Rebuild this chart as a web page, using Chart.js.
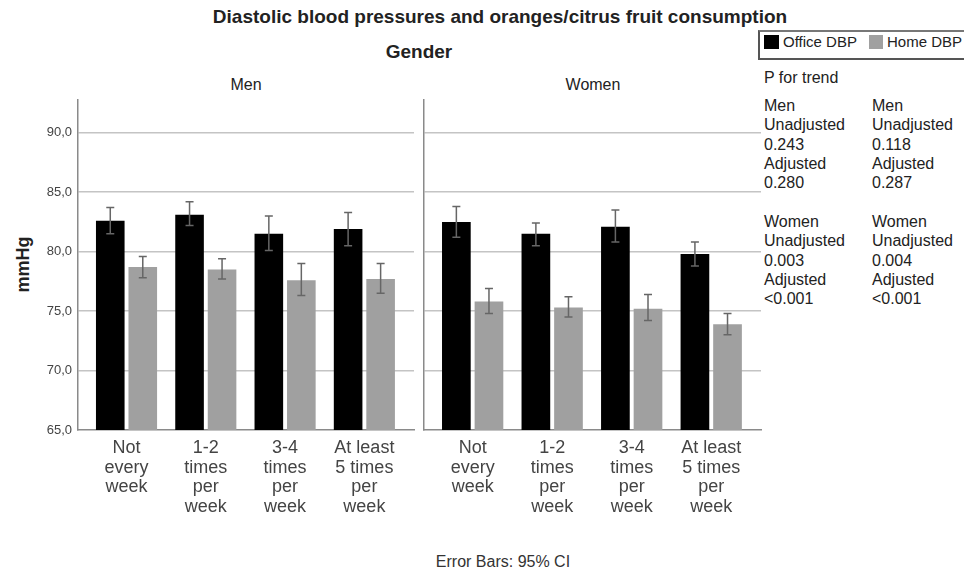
<!DOCTYPE html>
<html>
<head>
<meta charset="utf-8">
<script src="https://cdn.jsdelivr.net/npm/chart.js@4/dist/chart.umd.min.js"></script>
<style>
  body { margin: 0; background: #fff; font-family: "Liberation Sans", Arial, sans-serif; color: #222; }
  #wrap { position: relative; width: 964px; height: 571px; overflow: hidden; }
  .t { position: absolute; white-space: nowrap; }
  canvas { position: absolute; }
  .pt { position: absolute; font-size: 16px; line-height: 19.3px; color: #222; white-space: nowrap; }
</style>
</head>
<body>
<div id="wrap">
  <div class="t" style="left:200px;width:600px;top:6px;text-align:center;font-weight:bold;font-size:19px;">Diastolic blood pressures and oranges/citrus fruit consumption</div>
  <div class="t" style="left:319px;width:200px;top:41px;text-align:center;font-weight:bold;font-size:19px;">Gender</div>
  <div class="t" style="left:146px;width:200px;top:76px;text-align:center;font-size:16px;">Men</div>
  <div class="t" style="left:493px;width:200px;top:76px;text-align:center;font-size:16px;">Women</div>
  <div class="t" style="left:-7px;top:254px;width:60px;font-weight:bold;font-size:18px;transform:rotate(-90deg);text-align:center;">mmHg</div>
  <div class="t" style="left:403px;width:200px;top:553px;text-align:center;font-size:16px;color:#333;">Error Bars: 95% CI</div>

  <div style="position:absolute;left:758px;top:30px;width:220px;height:26px;border:2px solid #555;border-top-color:#777;"></div>
  <div style="position:absolute;left:764px;top:35px;width:15px;height:14px;background:#000;"></div>
  <div class="t" style="left:783px;top:33px;font-size:15px;">Office DBP</div>
  <div style="position:absolute;left:869px;top:35px;width:14px;height:14px;background:#a0a0a0;"></div>
  <div class="t" style="left:887px;top:33px;font-size:15px;">Home DBP</div>

  <div class="pt" style="left:764px;top:68px;">P for trend</div>
  <div class="pt" style="left:764px;top:96px;">Men<br>Unadjusted<br>0.243<br>Adjusted<br>0.280</div>
  <div class="pt" style="left:872px;top:96px;">Men<br>Unadjusted<br>0.118<br>Adjusted<br>0.287</div>
  <div class="pt" style="left:764px;top:212px;">Women<br>Unadjusted<br>0.003<br>Adjusted<br>&lt;0.001</div>
  <div class="pt" style="left:872px;top:212px;">Women<br>Unadjusted<br>0.004<br>Adjusted<br>&lt;0.001</div>

  <canvas id="menChart" style="left:0;top:95px;" width="420" height="440"></canvas>
  <canvas id="womenChart" style="left:414px;top:95px;" width="350" height="440"></canvas>
</div>
<script>
const categories = [
  ["Not", "every", "week"],
  ["1-2", "times", "per", "week"],
  ["3-4", "times", "per", "week"],
  ["At least", "5 times", "per", "week"]
];
const yTicks = [65, 70, 75, 80, 85, 90];

const menOffice = [82.6, 83.1, 81.5, 81.9];
const menOfficeLow = [81.5, 82.2, 80.1, 80.5];
const menOfficeHigh = [83.7, 84.2, 83.0, 83.3];
const menHome = [78.7, 78.5, 77.6, 77.7];
const menHomeLow = [77.8, 77.7, 76.3, 76.5];
const menHomeHigh = [79.6, 79.4, 79.0, 79.0];

const womenOffice = [82.5, 81.5, 82.1, 79.8];
const womenOfficeLow = [81.2, 80.5, 80.8, 78.8];
const womenOfficeHigh = [83.8, 82.4, 83.5, 80.8];
const womenHome = [75.8, 75.3, 75.2, 73.9];
const womenHomeLow = [74.8, 74.5, 74.2, 73.0];
const womenHomeHigh = [76.9, 76.2, 76.4, 74.8];

const errorBars = {
  id: "errorBars",
  afterDatasetsDraw(chart) {
    const ctx = chart.ctx;
    const y = chart.scales.y;
    ctx.save();
    ctx.strokeStyle = "#666";
    ctx.lineWidth = 1.5;
    chart.data.datasets.forEach((ds, i) => {
      chart.getDatasetMeta(i).data.forEach((bar, j) => {
        const top = y.getPixelForValue(ds.high[j]);
        const bot = y.getPixelForValue(ds.low[j]);
        ctx.beginPath();
        ctx.moveTo(bar.x, top); ctx.lineTo(bar.x, bot);
        ctx.moveTo(bar.x - 4, top); ctx.lineTo(bar.x + 4, top);
        ctx.moveTo(bar.x - 4, bot); ctx.lineTo(bar.x + 4, bot);
        ctx.stroke();
      });
    });
    ctx.restore();
  }
};

function toPoints(arr) {
  return arr.map((v, i) => ({ x: i, y: v }));
}

function makePanel(id, office, officeLow, officeHigh, home, homeLow, homeHigh, showY) {
  return new Chart(document.getElementById(id), {
    type: "bar",
    data: {
      datasets: [
        { label: "Office DBP", data: toPoints(office), low: officeLow, high: officeHigh,
          backgroundColor: "#000", categoryPercentage: 0.82, barPercentage: 0.88 },
        { label: "Home DBP", data: toPoints(home), low: homeLow, high: homeHigh,
          backgroundColor: "#a0a0a0", categoryPercentage: 0.82, barPercentage: 0.88 }
      ]
    },
    options: {
      responsive: false,
      animation: false,
      layout: { padding: { top: 5, right: showY ? 6 : 3, left: 0, bottom: 0 } },
      plugins: { legend: { display: false }, tooltip: { enabled: false } },
      scales: {
        x: {
          type: "linear",
          offset: false,
          min: -0.612,
          max: 3.626,
          afterBuildTicks: s => { s.ticks = [0, 1, 2, 3].map(v => ({ value: v })); },
          afterFit: s => { s.height = 105; s.paddingLeft = 0; s.paddingRight = 0; },
          grid: { display: false, drawTicks: false },
          border: { color: "#8a8a8a", width: 1.5 },
          ticks: {
            callback: v => categories[v],
            maxRotation: 0,
            autoSkip: false,
            padding: 8,
            color: "#444",
            font: { family: "'Liberation Sans', Arial, sans-serif", size: 18, lineHeight: 1.1 }
          }
        },
        y: {
          min: 65,
          max: 92.75,
          afterBuildTicks: s => { s.ticks = yTicks.map(v => ({ value: v })); },
          afterFit: s => { s.width = showY ? 78 : 10; s.paddingTop = 0; s.paddingBottom = 0; },
          grid: { color: ctx => ctx.tick.value === 65 ? "rgba(0,0,0,0)" : "#c4c4c4", lineWidth: 1.5, drawTicks: false },
          border: { color: "#8a8a8a", width: 1.5 },
          ticks: {
            display: showY,
            padding: 6,
            color: "#444",
            callback: v => v.toFixed(1).replace(".", ","),
            font: { family: "'Liberation Sans', Arial, sans-serif", size: 13 }
          }
        }
      }
    },
    plugins: [errorBars]
  });
}

makePanel("menChart", menOffice, menOfficeLow, menOfficeHigh, menHome, menHomeLow, menHomeHigh, true);
makePanel("womenChart", womenOffice, womenOfficeLow, womenOfficeHigh, womenHome, womenHomeLow, womenHomeHigh, false);
</script>
</body>
</html>
